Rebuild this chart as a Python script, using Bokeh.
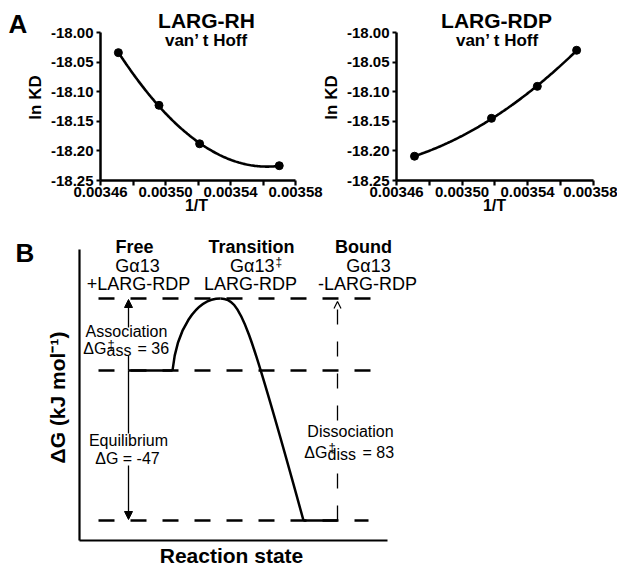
import math
import numpy as np
from bokeh.plotting import figure
from bokeh.models import (Range1d, FixedTicker, NumeralTickFormatter, Label, Arrow,
                          NormalHead, OpenHead, LinearAxis)
from bokeh.layouts import column
from bokeh.embed import file_html
from bokeh.resources import INLINE

FONT = "Liberation Sans"

# ---------------- Panel A data (van't Hoff) ----------------
rh_inv_T = [0.003471, 0.003496, 0.003521, 0.003570]
rh_lnKD = [-18.034, -18.123, -18.188, -18.225]
rdp_inv_T = [0.003471, 0.003518, 0.003546, 0.003570]
rdp_lnKD = [-18.209, -18.145, -18.091, -18.030]
x_ticks_labeled = [0.00346, 0.00350, 0.00354, 0.00358]
x_ticks_unlabeled = [0.00348, 0.00352, 0.00356]
y_ticks = [-18.25, -18.20, -18.15, -18.10, -18.05, -18.00]
X_MIN, X_MAX = 0.00346, 0.00358
Y_MIN, Y_MAX = -18.25, -18.00

# ---------------- Panel B data (energy diagram, schematic) ----------------
dG_ass = 36
dG_eq = -47
dG_diss = 83
level_y = [242, 170, 20]          # transition, free, bound (diagram height)
level_x0 = [19, 19, 19]
level_x1 = [291, 291, 289]
free_plateau_x = [49, 93]
bound_plateau_x = [224, 258]
rise_ctrl = [(93, 170), (97, 210), (116, 242), (141, 242)]
fall_ctrl = [(141, 242), (161, 242), (169, 220), (224, 20)]
arrow_x_left = 49
arrow_x_right = 258
ass_gap = (185, 213)     # arrow hidden behind the association text
eq_gap = (75, 107)       # arrow hidden behind the equilibrium text
diss_gap = (78, 120)     # dashed arrow hidden behind the dissociation text

W = 617
HA = 225
HB = 341

# pixel placement of the two van't Hoff axes boxes
A_TOP, A_BOT = 32, 180
L_LEFT, L_RIGHT = 100, 295
R_LEFT, R_RIGHT = 396, 592.5

sx1 = (X_MAX - X_MIN) / (L_RIGHT - L_LEFT)
sx2 = (X_MAX - X_MIN) / (R_RIGHT - R_LEFT)
sy = (Y_MAX - Y_MIN) / (A_BOT - A_TOP)

pa = figure(width=W, height=HA, title=None, output_backend="svg", toolbar_location=None,
            x_range=Range1d(X_MIN - L_LEFT * sx1, X_MIN + (W - L_LEFT) * sx1),
            y_range=Range1d(Y_MIN - (HA - A_BOT) * sy, Y_MAX + A_TOP * sy),
            min_border=0, x_axis_type=None, y_axis_type=None)
pa.extra_x_ranges = {"r": Range1d(X_MIN - R_LEFT * sx2, X_MIN + (W - R_LEFT) * sx2)}
pa.grid.visible = False
pa.outline_line_color = None


def dx1(px):
    return X_MIN + (px - L_LEFT) * sx1


def dya(py):
    return Y_MAX - (py - A_TOP) * sy


def style_axis(ax, tick_out, standoff):
    ax.axis_line_width = 2.5
    ax.axis_line_color = "black"
    ax.major_tick_line_width = 2.2
    ax.minor_tick_line_width = 2.2
    ax.major_tick_line_color = "black"
    ax.minor_tick_line_color = "black"
    ax.major_tick_in = 0
    ax.major_tick_out = tick_out
    ax.minor_tick_in = 0
    ax.minor_tick_out = tick_out
    ax.major_label_text_font = FONT
    ax.major_label_text_font_style = "bold"
    ax.major_label_text_font_size = "15px"
    ax.major_label_text_color = "black"
    ax.major_label_standoff = standoff


for rname in ("default", "r"):
    xax = LinearAxis(x_range_name=rname, fixed_location=Y_MIN, bounds=(X_MIN, X_MAX),
                     ticker=FixedTicker(ticks=x_ticks_labeled, minor_ticks=x_ticks_unlabeled),
                     formatter=NumeralTickFormatter(format="0.00000"))
    style_axis(xax, 5, 1)
    pa.add_layout(xax, "below")
    yax = LinearAxis(x_range_name=rname, fixed_location=X_MIN, bounds=(Y_MIN, Y_MAX),
                     ticker=FixedTicker(ticks=y_ticks),
                     formatter=NumeralTickFormatter(format="0.00"))
    style_axis(yax, 4, 3)
    pa.add_layout(yax, "left")


def fit_curve(xs, ys, rname):
    xa_arr = np.array(xs)
    xm = xa_arr.mean()
    coef = np.polyfit((xa_arr - xm) * 1e4, np.array(ys), 2)
    xf = np.linspace(xa_arr.min(), xa_arr.max(), 120)
    yf = np.polyval(coef, (xf - xm) * 1e4)
    pa.line(xf, yf, line_width=2.6, color="black", x_range_name=rname)
    pa.scatter(xs, ys, size=8, color="black", x_range_name=rname)


fit_curve(rh_inv_T, rh_lnKD, "default")
fit_curve(rdp_inv_T, rdp_lnKD, "r")


def alab(px, py, text, size, align="center", angle=0.0):
    pa.add_layout(Label(x=dx1(px), y=dya(py), text=text, text_align=align,
                        text_baseline="middle", text_font=FONT, text_font_style="bold",
                        text_font_size=size, angle=angle, text_color="black"))


alab(8, 23, "A", "26px", align="left")
alab(206, 20, "LARG-RH", "21px")
alab(206, 39.5, "van’ t Hoff", "17px")
alab(496, 20, "LARG-RDP", "21px")
alab(497, 39.5, "van’ t Hoff", "17px")
alab(196, 205, "1/T", "16px")
alab(494, 205, "1/T", "16px")
alab(35, 97, "ln KD", "17px", angle=math.pi / 2)
alab(331, 97, "ln KD", "17px", angle=math.pi / 2)

# ---------------- Panel B ----------------
B_ORIGIN_X, B_ORIGIN_Y = 79, 540      # pixel position of the diagram's axes corner
B_TOP = HA                            # panel B canvas starts below panel A
pb = figure(width=W, height=HB, title=None, output_backend="svg", toolbar_location=None,
            x_range=Range1d(-B_ORIGIN_X, W - B_ORIGIN_X),
            y_range=Range1d(B_ORIGIN_Y - (B_TOP + HB), B_ORIGIN_Y - B_TOP),
            min_border=0, x_axis_type=None, y_axis_type=None)
pb.grid.visible = False
pb.outline_line_color = None

for side, loc, bnds in (("below", 0, (0, 308)), ("left", 0, (0, 291))):
    ax = LinearAxis(fixed_location=loc, bounds=bnds, ticker=FixedTicker(ticks=[]))
    ax.axis_line_width = 2.2
    ax.axis_line_color = "black"
    ax.major_tick_line_color = None
    ax.minor_tick_line_color = None
    ax.major_label_text_font_size = "0px"
    pb.add_layout(ax, side)

# dashed energy levels
pb.segment(x0=level_x0, y0=level_y, x1=level_x1, y1=level_y, line_dash="16 16",
           line_width=2.5, color="black")
# reaction path
pb.line(free_plateau_x, [level_y[1]] * 2, line_width=2.5, color="black")
pb.line(bound_plateau_x, [level_y[2]] * 2, line_width=2.5, color="black")
for c in (rise_ctrl, fall_ctrl):
    pb.bezier(x0=[c[0][0]], y0=[c[0][1]], cx0=[c[1][0]], cy0=[c[1][1]],
              cx1=[c[2][0]], cy1=[c[2][1]], x1=[c[3][0]], y1=[c[3][1]],
              line_width=2.5, line_color="black")

# arrows (interrupted where the annotation text sits)
pb.segment(x0=[arrow_x_left], y0=[level_y[1]], x1=[arrow_x_left], y1=[ass_gap[0]],
           line_width=1.3, color="black")
pb.add_layout(Arrow(start=None, end=NormalHead(size=8, fill_color="black", line_color="black"),
                    x_start=arrow_x_left, y_start=ass_gap[1], x_end=arrow_x_left,
                    y_end=level_y[0] - 1, line_width=1.3, line_color="black"))
pb.segment(x0=[arrow_x_left], y0=[level_y[1]], x1=[arrow_x_left], y1=[eq_gap[1]],
           line_width=1.3, color="black")
pb.add_layout(Arrow(start=None, end=NormalHead(size=8, fill_color="black", line_color="black"),
                    x_start=arrow_x_left, y_start=eq_gap[0], x_end=arrow_x_left,
                    y_end=level_y[2] + 1, line_width=1.3, line_color="black"))
pb.segment(x0=[arrow_x_right], y0=[level_y[2]], x1=[arrow_x_right], y1=[diss_gap[0]],
           line_width=1.3, color="black", line_dash="15 17")
pb.add_layout(Arrow(start=None, end=OpenHead(size=7, line_width=1.2, line_color="black"),
                    x_start=arrow_x_right, y_start=diss_gap[1], x_end=arrow_x_right,
                    y_end=level_y[0] - 3, line_width=1.3, line_color="black",
                    line_dash="15 17"))


def lab(x, y, text, size="16px", align="center", bold=False, angle=0.0):
    pb.add_layout(Label(x=x, y=y, text=text, text_align=align, text_baseline="middle",
                        text_font=FONT, text_font_size=size, text_color="black",
                        text_font_style="bold" if bold else "normal", angle=angle))


# state headers
lab(55, 293.5, "Free", "18px", bold=True)
lab(58, 275, "Gα13", "18px")
lab(59, 256.5, "+LARG-RDP", "18px")
lab(172, 293.5, "Transition", "18px", bold=True)
lab(195, 275, "Gα13", "18px", align="right")
lab(196, 279, "‡", "12px", align="left")
lab(171, 256.5, "LARG-RDP", "18px")
lab(284, 293.5, "Bound", "18px", bold=True)
lab(289, 275, "Gα13", "18px")
lab(288, 256.5, "-LARG-RDP", "18px")

# association
lab(47, 209.5, "Association")
lab(27, 192, "ΔG", align="right")
lab(27, 190, "ass", align="left")
lab(28, 196, "‡", "13px", align="left")
lab(58, 192, f"= {dG_ass}", align="left")
# equilibrium
lab(49, 100, "Equilibrium")
lab(48, 82, f"ΔG = {dG_eq}")
# dissociation
lab(271, 109, "Dissociation")
lab(248, 88, "ΔG", align="right")
lab(248, 86, "diss", align="left")
lab(249, 93, "‡", "13px", align="left")
lab(283, 88, f"= {dG_diss}", align="left")

# axis titles and panel letter
lab(152, -14.5, "Reaction state", "21px", bold=True)
lab(-22, 143, "ΔG (kJ mol⁻¹)", "21px", bold=True, angle=math.pi / 2)
lab(-64, 288, "B", "26px", align="left", bold=True)

layout = column(pa, pb)
open("out.html", "w").write(file_html(layout, INLINE))
